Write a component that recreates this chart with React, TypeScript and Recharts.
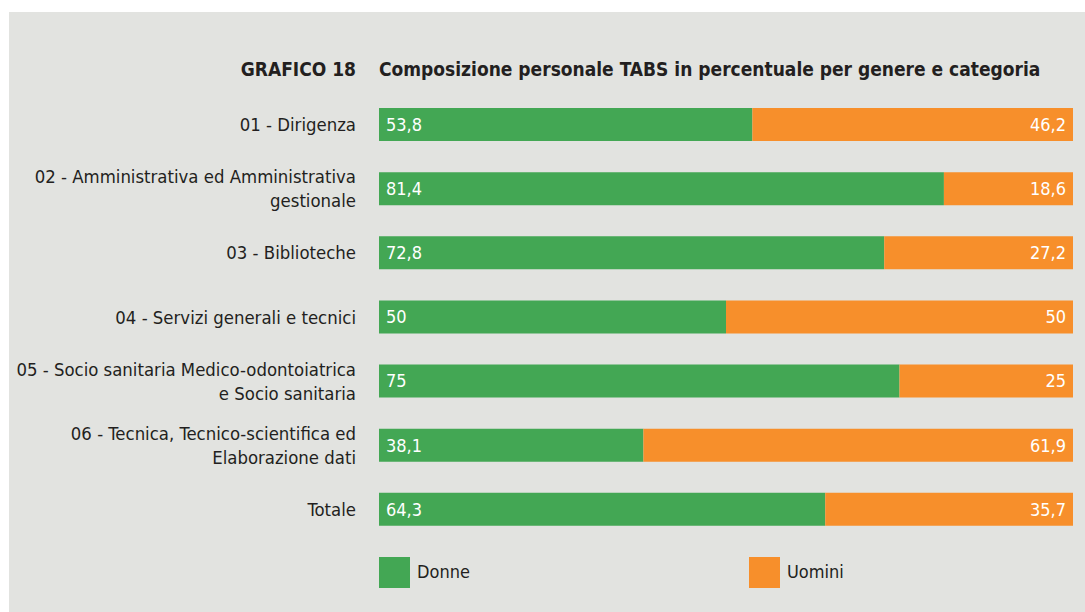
import React from 'react';
import { BarChart, Bar, XAxis, YAxis, LabelList } from 'recharts';

const categories = [
  '01 - Dirigenza',
  '02 - Amministrativa ed Amministrativa|gestionale',
  '03 - Biblioteche',
  '04 - Servizi generali e tecnici',
  '05 - Socio sanitaria Medico-odontoiatrica|e Socio sanitaria',
  '06 - Tecnica, Tecnico-scientifica ed|Elaborazione dati',
  'Totale',
];
const donne = [53.8, 81.4, 72.8, 50, 75, 38.1, 64.3];
const uomini = [46.2, 18.6, 27.2, 50, 25, 61.9, 35.7];

const data = categories.map((c, i) => ({ name: c, donne: donne[i], uomini: uomini[i] }));

const GREEN = '#43a754';
const ORANGE = '#f78f2b';
const TEXT = '#231f20';
const FONT = '"DejaVu Sans", sans-serif';

const fmt = (v: any) => String(v).replace('.', ',');

const CategoryTick = (props: any) => {
  const { x, y, payload } = props;
  const lines = String(payload.value).split('|');
  const lh = 24;
  const start = y - ((lines.length - 1) * lh) / 2;
  return (
    <text
      x={x}
      y={start}
      textAnchor="end"
      fill={TEXT}
      fontSize={18.4}
      fontFamily={FONT}
      style={{ fontStretch: 'condensed' }}
      dominantBaseline="central"
    >
      {lines.map((l, i) => (
        <tspan key={i} x={x} y={start + i * lh}>
          {l}
        </tspan>
      ))}
    </text>
  );
};

const txt: React.CSSProperties = { fontFamily: FONT, fontStretch: 'condensed', color: TEXT, position: 'absolute' };

const App = () => {
  return (
    <div style={{ position: 'fixed', left: 0, top: 0, width: 1085, height: 612, background: '#ffffff' }}>
      <div style={{ position: 'absolute', left: 9, top: 12, width: 1076, height: 600, background: '#e2e3e0' }} />
      <div style={{ ...txt, left: 0, width: 356, top: 58, textAlign: 'right', fontWeight: 'bold', fontSize: 19 }}>
        GRAFICO 18
      </div>
      <div style={{ ...txt, left: 379, top: 58, fontWeight: 'bold', fontSize: 19, whiteSpace: 'nowrap' }}>
        Composizione personale TABS in percentuale per genere e categoria
      </div>
      <div style={{ position: 'absolute', left: 0, top: 0 }}>
        <BarChart
          width={1085}
          height={612}
          data={data}
          layout="vertical"
          margin={{ top: 92, right: 12, bottom: 71, left: 0 }}
        >
          <XAxis type="number" domain={[0, 100]} hide />
          <YAxis
            type="category"
            dataKey="name"
            width={379}
            axisLine={false}
            tickLine={false}
            tickSize={0}
            tickMargin={23}
            tick={<CategoryTick />}
            interval={0}
          />
          <Bar dataKey="donne" stackId="a" fill={GREEN} barSize={33} isAnimationActive={false}>
            <LabelList
              dataKey="donne"
              position="insideLeft"
              offset={7}
              fill="#ffffff"
              fontSize={18}
              fontFamily={FONT}
              style={{ fontStretch: 'condensed' }}
              formatter={fmt}
            />
          </Bar>
          <Bar dataKey="uomini" stackId="a" fill={ORANGE} barSize={33} isAnimationActive={false}>
            <LabelList
              dataKey="uomini"
              position="insideRight"
              offset={7}
              fill="#ffffff"
              fontSize={18}
              fontFamily={FONT}
              style={{ fontStretch: 'condensed' }}
              formatter={fmt}
            />
          </Bar>
        </BarChart>
      </div>
      <div style={{ position: 'absolute', left: 379, top: 557, width: 31, height: 31, background: GREEN }} />
      <div style={{ ...txt, left: 417, top: 561, fontSize: 18 }}>Donne</div>
      <div style={{ position: 'absolute', left: 749, top: 557, width: 31, height: 31, background: ORANGE }} />
      <div style={{ ...txt, left: 787, top: 561, fontSize: 18 }}>Uomini</div>
    </div>
  );
};

export default App;
